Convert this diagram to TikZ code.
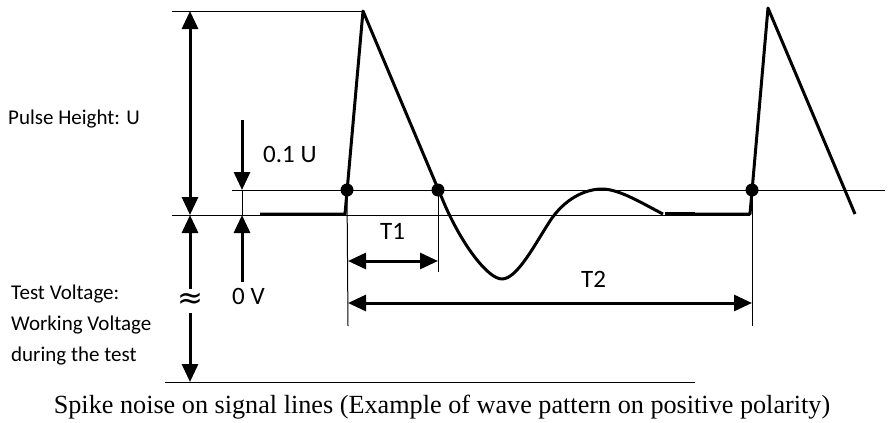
\documentclass[tikz,border=0pt]{standalone}
\usepackage{fontspec}
\setmainfont{Carlito}
\newfontfamily\capfont{Liberation Serif}
\newfontfamily\symfont{DejaVu Sans}
\usetikzlibrary{arrows.meta}
\begin{document}
\begin{tikzpicture}[x=1pt,y=-1pt,
  refline/.style={line width=1pt},
  wave/.style={line width=3pt, line join=round},
  tipT/.tip={Triangle[length=18pt,width=16pt]},
  dimone/.style={line width=3pt, -tipT},
  dimtwo/.style={line width=3pt, tipT-tipT},
  dot/.style={circle, fill=black, inner sep=0pt, minimum size=13pt},
  lbl/.style={font=\fontsize{25}{30}\selectfont, inner sep=0pt, anchor=base west},
  side/.style={font=\fontsize{21}{25}\selectfont, inner sep=0pt, anchor=base west}]
\useasboundingbox (0,0) rectangle (889,423);

% reference points
\coordinate (topL) at (172,11);
\coordinate (pk1) at (363,11);
\coordinate (lvlL) at (232,190);
\coordinate (lvlR) at (885,190);
\coordinate (baseL) at (172,215);
\coordinate (baseR) at (750,215);
\coordinate (botL) at (165,382);
\coordinate (botR) at (695,382);

% reference lines
\draw[refline] (topL) -- (pk1);
\draw[refline] (lvlL) -- (lvlR);
\draw[refline] (baseL) -- (baseR);
\draw[refline] (botL) -- (botR);

% waveform
\coordinate (w0) at (260,214);
\coordinate (r1) at (345,214);
\coordinate (pk1w) at (363,11);
\coordinate (f1) at (444,203);
\coordinate (tr) at (502,279);
\coordinate (c1) at (552,218);
\coordinate (hp) at (602,189);
\coordinate (e1) at (663,214);
\coordinate (w2) at (665,214);
\coordinate (r2) at (750,214);
\coordinate (pk2) at (768,8);
\coordinate (f2) at (855,214);
\draw[wave] (w0) -- (r1) -- (pk1w) -- (f1)
  .. controls (462,245) and (488,279) .. (tr)
  .. controls (518,279) and (537,240) .. (c1)
  .. controls (568,196) and (588,189) .. (hp)
  .. controls (620,189) and (645,205) .. (e1);
\draw[wave] (w2) -- (r2) -- (pk2) -- (f2);
\draw[line width=4pt] (665,214) -- (695,214);

% dots
\node[dot] (d1) at (347,190) {};
\node[dot] (d2) at (438,190) {};
\node[dot] (d3) at (752,190) {};

% extension lines
\coordinate (v1b) at (348,326);
\coordinate (v2b) at (438,272);
\coordinate (v3b) at (752,326);
\draw[refline] (d1.center) -- (v1b);
\draw[refline] (d2.center) -- (v2b);
\draw[refline] (d3.center) -- (v3b);

% pulse height
\coordinate (phT) at (190,11);
\coordinate (phB) at (190,215);
\draw[dimtwo] (phT) -- (phB);

% test voltage
\node[font=\symfont\fontsize{31}{31}\selectfont, inner sep=0pt] (apx) at (190,301) {≈};
\coordinate (tvA) at (190,289);
\coordinate (tvB) at (190,313);
\coordinate (tvE) at (190,382);
\draw[dimone] (tvA) -- (phB);
\draw[dimone] (tvB) -- (tvE);

% 0.1 U and 0 V
\coordinate (uS) at (242,120);
\coordinate (uE) at (242,190);
\coordinate (zS) at (242,282);
\coordinate (zE) at (242,215);
\draw[dimone] (uS) -- (uE);
\draw[dimone] (zS) -- (zE);
\draw[refline] (uE) -- (zE);

% T1 and T2
\coordinate (t1a) at (348,261);
\coordinate (t1b) at (438,261);
\coordinate (t2a) at (348,303);
\coordinate (t2b) at (752,303);
\draw[dimtwo] (t1a) -- (t1b);
\draw[dimtwo] (t2a) -- (t2b);

% labels
\node[side] (lph) at (8,124) {Pulse Height: U};
\node[lbl] (l01) at (263,162) {0.1 U};
\node[lbl] (lt1) at (380,239) {T1};
\node[lbl] (l0v) at (232,304) {0 V};
\node[lbl] (lt2) at (581,287) {T2};
\node[side] (ltv1) at (11,299) {Test Voltage:};
\node[side] (ltv2) at (11,330) {Working Voltage};
\node[side] (ltv3) at (11,361) {during the test};
\node[font=\capfont\fontsize{26.2}{30}\selectfont, inner sep=0pt, anchor=base] (cap) at (442,413)
  {Spike noise on signal lines (Example of wave pattern on positive polarity)};
\end{tikzpicture}
\end{document}
